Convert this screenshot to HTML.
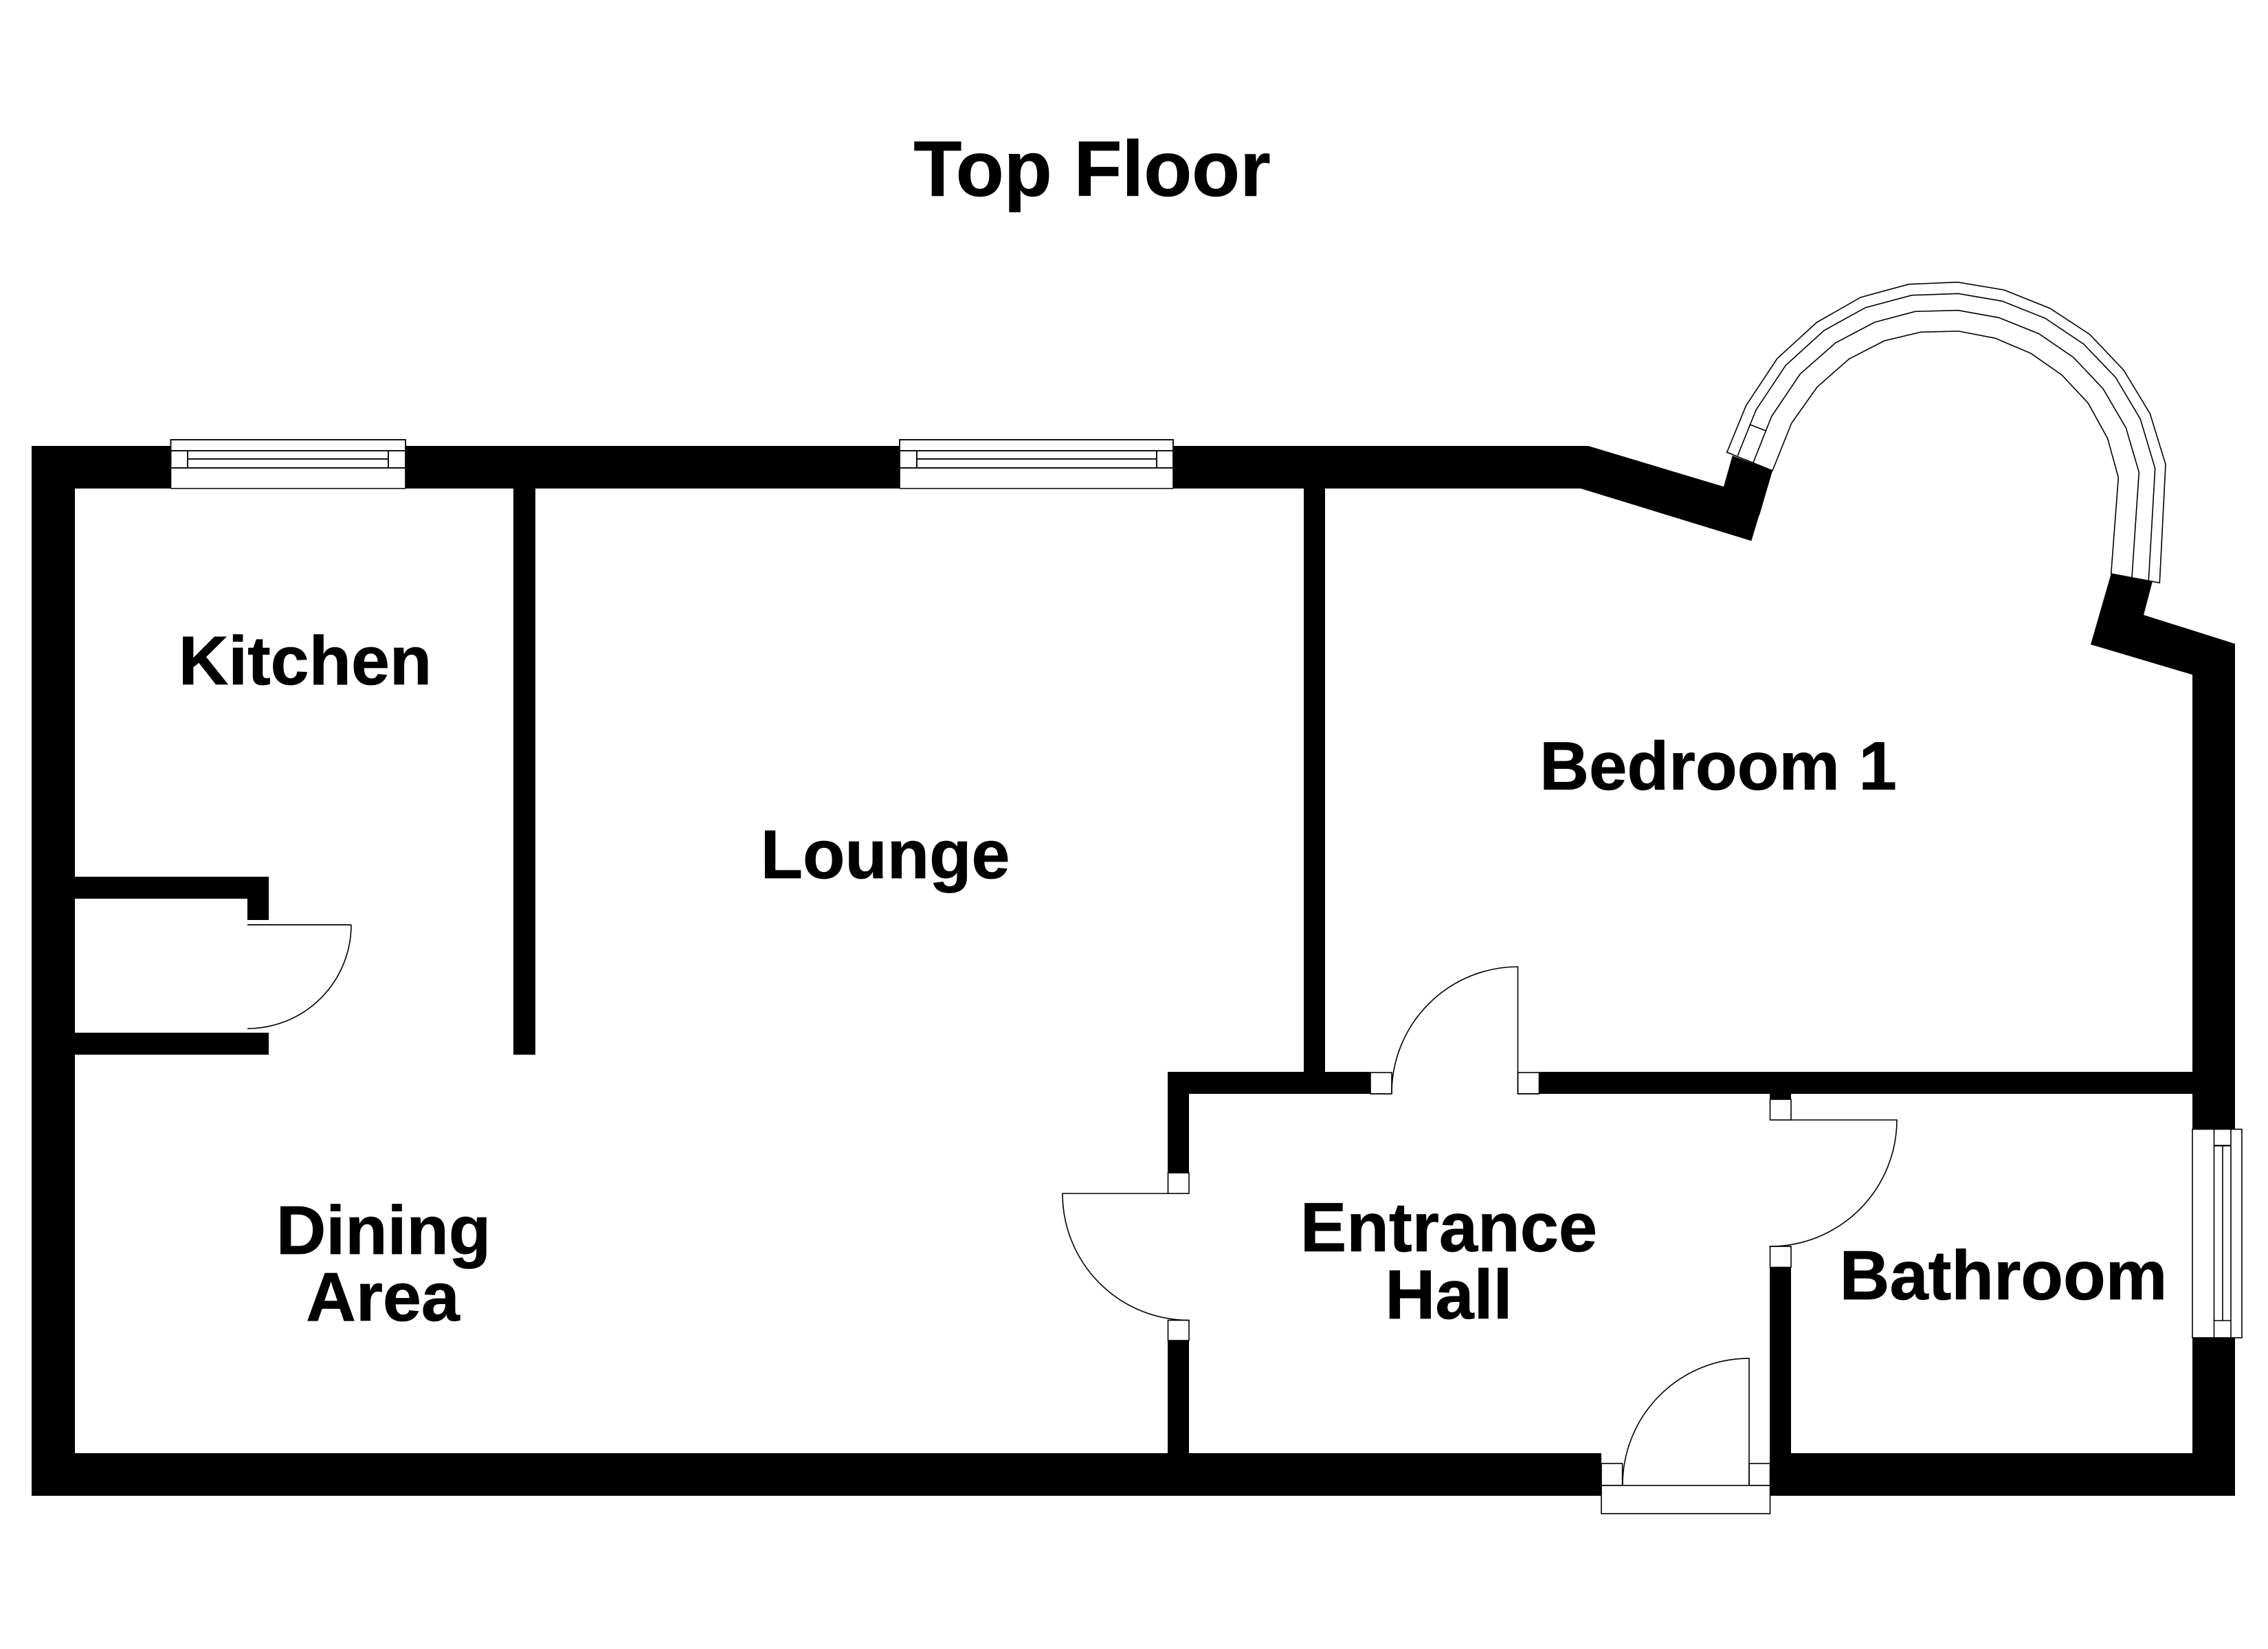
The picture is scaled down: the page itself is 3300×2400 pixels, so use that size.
<!DOCTYPE html>
<html>
<head>
<meta charset="utf-8">
<style>
html,body{margin:0;padding:0;background:#fff;}
svg{display:block;}
text{font-family:"Liberation Sans",Arial,sans-serif;font-weight:bold;fill:#000;stroke:#000;stroke-width:.8;text-anchor:middle;}
.l{fill:none;stroke:#000;stroke-width:1.6;}
.w{fill:#fff;stroke:#111;stroke-width:2;}
</style>
</head>
<body>
<svg width="3300" height="2400" viewBox="0 0 3300 2400" xmlns="http://www.w3.org/2000/svg">
<rect width="3300" height="2400" fill="#fff"/>

<!-- walls -->
<g fill="#000">
  <rect x="46" y="649" width="63" height="1528"/>
  <polygon points="46,649 2311,649 2508,708.3 2520.7,663.3 2579,685 2548.3,787.3 2300,711 46,711"/>
  <polygon points="3071.7,835 3131.7,846.7 3119,895 3252,937 3252,1644 3190,1644 3190,982 3042,938"/>
  <rect x="3190" y="1947" width="62" height="230"/>
  <rect x="46" y="2115" width="2284" height="62"/>
  <rect x="2575" y="2115" width="677" height="62"/>
  <!-- interior -->
  <rect x="747" y="711" width="32" height="824"/>
  <rect x="1897" y="711" width="31" height="850"/>
  <rect x="1699" y="1560" width="295" height="32"/>
  <rect x="2240" y="1560" width="950" height="32"/>
  <rect x="1699" y="1560" width="31" height="147"/>
  <rect x="1699" y="1951" width="31" height="165"/>
  <rect x="2575" y="1592" width="31" height="8"/>
  <rect x="2575" y="1844" width="31" height="272"/>
  <rect x="109" y="1276" width="282" height="32"/>
  <rect x="360" y="1276" width="31" height="63"/>
  <rect x="109" y="1503" width="282" height="32"/>
</g>

<!-- kitchen window -->
<g>
  <rect x="248.5" y="639" width="341.5" height="72" fill="#fff"/>
  <rect class="w" x="248.5" y="640" width="341.5" height="16"/>
  <rect class="w" x="248.5" y="656" width="341.5" height="25"/>
  <rect class="w" x="273" y="656" width="292" height="12"/>
  <rect class="w" x="273" y="668" width="292" height="13"/>
  <path class="l" d="M248.5 681V711M590 681V711"/>
  <path class="l" d="M248.5 711H590"/>
</g>
<!-- lounge window -->
<g>
  <rect x="1309" y="639" width="398" height="72" fill="#fff"/>
  <rect class="w" x="1309" y="640" width="398" height="16"/>
  <rect class="w" x="1309" y="656" width="398" height="25"/>
  <rect class="w" x="1334" y="656" width="349" height="12"/>
  <rect class="w" x="1334" y="668" width="349" height="13"/>
  <path class="l" d="M1309 681V711M1707 681V711"/>
  <path class="l" d="M1309 711H1707"/>
</g>
<!-- bathroom window -->
<g>
  <rect x="3190" y="1643.5" width="72" height="303.5" fill="#fff" stroke="#000" stroke-width="1.6"/>
  <path class="l" d="M3221.5 1643.5V1947M3246 1643.5V1947M3234 1667V1922M3221.5 1667H3246M3221.5 1922H3246"/>
  <path d="M3221.5 1667.5H3246" stroke="#000" stroke-width="2"/>
</g>

<!-- bay window -->
<g>
  <polygon points="2512.7,658.3 2540.7,590 2586,521.7 2643.3,469.3 2707.3,432.7 2777.3,413.7 2848.3,410.7 2916,422 2982.7,448.7 3040.7,486.7 3090,538.7 3128.3,602 3151,675.7 3142.3,848.3 3071.7,835 3082.3,695 3066.7,638.3 3038.3,586.7 3000,545.7 2955,514.3 2903.3,492.3 2850,482 2795,483.3 2741.7,496 2690.7,522.3 2644,563.3 2606.7,616 2579,685" fill="#fff" stroke="#000" stroke-width="1.6"/>
  <polyline class="l" points="2528.3,663.3 2555,596.7 2598.3,531.7 2654,481 2714.3,447.7 2781.7,429.7 2849.3,427.3 2913.3,438.3 2976,463.3 3031.7,500.7 3078.3,549.3 3114.3,610 3135.7,681.7 3126.3,844.3"/>
  <polyline class="l" points="2551,673.3 2577.7,606 2619.3,544.3 2670.7,499 2727.7,469 2786.7,453.3 2849.3,451.7 2908.3,462.3 2966.7,485.7 3016.7,520 3060,565.7 3093.3,622.7 3112.3,687.3 3102,840"/>
  <line class="l" x1="2545.7" y1="617.7" x2="2570" y2="627.3"/>
</g>
<polygon points="2520.7,663.3 2579,685 2560,750 2505,730" fill="#000"/>
<polygon points="3071.7,835 3131.7,846.7 3119,895 3060,880" fill="#000"/>

<!-- cupboard door -->
<path d="M360 1346H511" fill="none" stroke="#222" stroke-width="2"/>
<path class="l" d="M511 1346A151 151 0 0 1 360 1497"/>

<!-- bedroom door -->
<rect class="l" x="1994" y="1561" width="31" height="31" style="fill:#fff"/>
<rect class="l" x="2208.5" y="1561" width="31" height="31" style="fill:#fff"/>
<path class="l" d="M2208.5 1592V1407A184 184 0 0 0 2025 1592"/>
<path class="l" d="M1994 1592H2025M2208.5 1592H2240" />

<!-- lounge door -->
<rect class="l" x="1699.5" y="1707" width="30.5" height="30" style="fill:#fff"/>
<rect class="l" x="1699.5" y="1921.5" width="30.5" height="29.5" style="fill:#fff"/>
<path class="l" d="M1699.5 1737H1546A184 184 0 0 0 1730 1921.5"/>

<!-- bathroom door -->
<rect class="l" x="2575.5" y="1600" width="30.5" height="30" style="fill:#fff"/>
<rect class="l" x="2575.5" y="1814" width="30.5" height="30.5" style="fill:#fff"/>
<path class="l" d="M2606 1630H2760A184.5 184.5 0 0 1 2575.5 1814"/>

<!-- front door -->
<rect x="2330" y="2115" width="245" height="48" fill="#fff"/>
<rect class="l" x="2330" y="2130" width="30.6" height="32" style="fill:#fff"/>
<rect class="l" x="2545" y="2130" width="30.5" height="32" style="fill:#fff"/>
<rect class="l" x="2330" y="2162" width="245.5" height="41" style="fill:#fff"/>
<path class="l" d="M2545 2162V1977A184 184 0 0 0 2361 2162"/>

<!-- labels -->
<text x="1589" y="285" font-size="114.5">Top Floor</text>
<text x="444" y="996" font-size="100.5">Kitchen</text>
<text x="1288" y="1278" font-size="100.5">Lounge</text>
<text x="2500" y="1149" font-size="99.5">Bedroom 1</text>
<text x="558" y="1825" font-size="100.5">Dining</text>
<text x="557" y="1922" font-size="100.5">Area</text>
<text x="2108" y="1821" font-size="101">Entrance</text>
<text x="2108" y="1919" font-size="101">Hall</text>
<text x="2915" y="1891" font-size="101">Bathroom</text>
</svg>
</body>
</html>
